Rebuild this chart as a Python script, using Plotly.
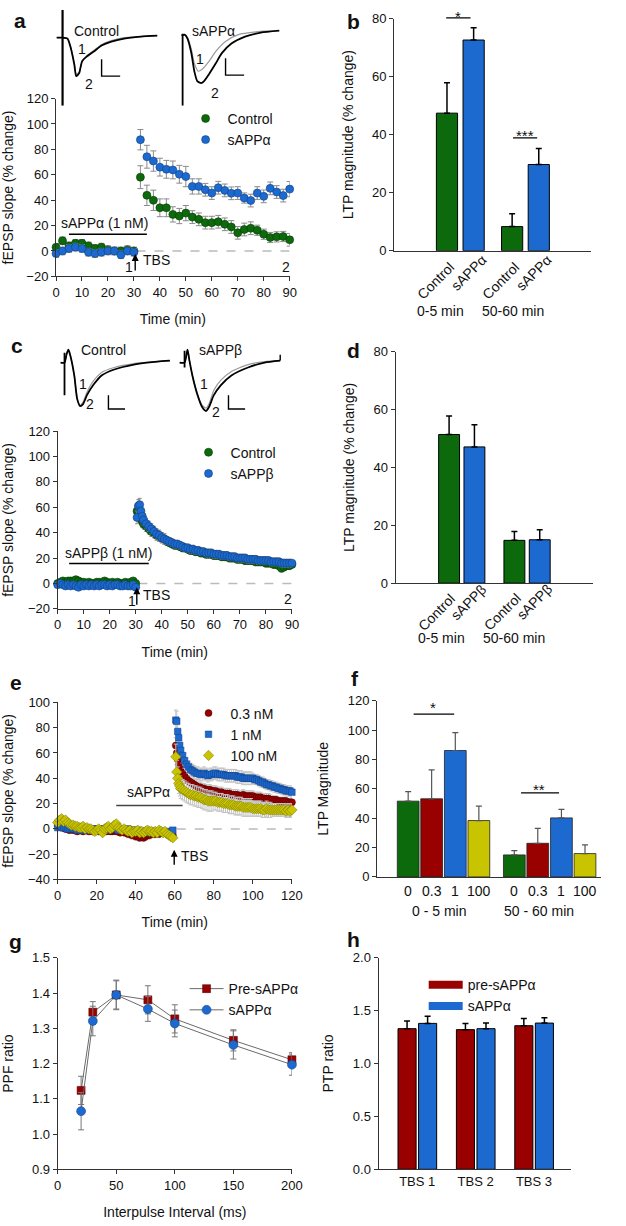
import plotly.graph_objects as go

W, H = 626, 1226
FONT = "Liberation Sans, Arial, sans-serif"
TXT = "#111111"
AX = "#333333"
GREEN = "#0c6a0c"
GREEN_D = "#063d06"
BLUE = "#1c6ad0"
BLUE_D = "#123f80"
RED = "#990000"
RED_D = "#4d0000"
YELLOW = "#c9c400"
YELLOW_D = "#77740a"
ERRG = "#8a8a8a"


def px(x):
    return x / W


def py(y):
    return 1 - y / H


# ---------------- panel a data ----------------
a_time = [0, 2.5, 5, 7.5, 10, 12.5, 15, 17.5, 20, 22.5, 25, 27.5, 30, 32.5, 35, 37.5, 40, 42.5,
          45, 47.5, 50, 52.5, 55, 57.5, 60, 62.5, 65, 67.5, 70, 72.5, 75, 77.5, 80, 82.5, 85, 87.5, 90]
a_ctrl = [2.9, 8, 4, 6, 6, 4, 2, 3, 1, 0, 0, 1, 0,
          58.1, 43.8, 39.9, 34, 34, 28.8, 27.5, 29.8, 26.7, 24.9,
          22.3, 22.3, 23, 21, 18.9, 14.3, 16.9, 17.9, 16.3, 13.2,
          10.6, 11.1, 11.4, 8.8]
a_ctrl_err = [3, 3, 3, 3, 3, 3, 3, 3, 3, 3, 3, 3, 3,
              9, 8, 8, 7, 7, 6, 6, 6, 5, 5,
              5, 5, 5, 5, 5, 5, 5, 5, 4, 4,
              4, 4, 4, 5]
a_salpha = [-2, 0, 2, 3, 2, -1, -2, -1, 0, 0, -3, 0, -1,
            87.6, 74.2, 70.8, 66, 64.3, 63.8, 60.4, 58.6, 50.8, 50.8,
            48.2, 45.6, 49.8, 47.7, 45.4, 45.6, 41.7, 39.7, 45.6, 43,
            49.3, 46.4, 43.6, 48.7]
a_salpha_err = [3, 3, 3, 3, 3, 3, 3, 3, 3, 3, 3, 3, 3,
                8, 9, 8, 7, 7, 7, 7, 8, 6, 6,
                5, 5, 5, 5, 5, 5, 4, 5, 5, 5,
                5, 5, 5, 6]

# ---------------- panel b data ----------------
b_groups = ["0-5 min", "50-60 min"]
b_ctrl = [47.4, 8.3]
b_ctrl_err = [10.5, 4.4]
b_salpha = [72.6, 29.7]
b_salpha_err = [4.2, 5.5]

# ---------------- panel c data ----------------
c_time = list(range(0, 31)) + [30.5, 31, 31.5, 32, 32.5, 33] + list(range(34, 91))
c_ctrl = [0, 1, 2, 1, 2, 2, 2, 3, 2, 1, 1, 0, 1, 0, 0, 1, 1, 0, 2, 1, 0, 1, 0, 1, 0, 0, 1, 0, 1, 2, 0,
          57, 55, 53, 51, 49, 47,
          45, 43, 41, 40, 38, 37,
          36, 35, 33, 32, 31, 30, 30, 29, 28, 28,
          27, 26, 26, 25, 25, 24, 24, 23, 23, 23,
          22, 22, 22, 21, 21, 21, 20, 20, 20, 19,
          19, 19, 18, 18, 18, 18, 17, 17, 17, 17,
          16, 16, 16, 15, 15, 14, 12, 13, 14, 14,
          15]
c_sbeta = [-1, 0, -1, -2, -1, -2, -1, -2, -3, -1, -2, -1, -2, -1, -2, -1, -2, -1, -1, -2,
           -1, -2, -1, -1, -2, -2, -1, -2, -2, -1, -3,
           52, 61, 62, 57, 53, 50,
           47, 45, 43, 41, 39, 38,
           36, 35, 34, 33, 32, 31, 31, 30, 29, 28,
           28, 27, 27, 26, 26, 25, 25, 24, 24, 24,
           23, 23, 23, 22, 22, 22, 21, 21, 21, 20,
           20, 20, 20, 19, 19, 19, 19, 18, 18, 18,
           18, 18, 17, 17, 17, 17, 16, 16, 16, 16,
           16]
c_err = [2, 2, 2, 2, 2, 2, 2, 2, 2, 2, 2, 2, 2, 2, 2, 2, 2, 2, 2, 2, 2, 2, 2, 2, 2, 2, 2, 2, 2, 2, 2,
         5, 5, 5, 5, 5, 4,
         4, 4, 4, 4, 4, 4,
         4, 4, 3, 3, 3, 3, 3, 3, 3, 3,
         3, 3, 3, 3, 3, 3, 3, 3, 3, 3,
         3, 3, 3, 3, 3, 3, 3, 3, 3, 3,
         3, 3, 3, 3, 3, 3, 3, 3, 3, 3,
         3, 3, 3, 3, 3, 3, 3, 3, 3, 3,
         3]

# ---------------- panel d data ----------------
d_groups = ["0-5 min", "50-60 min"]
d_ctrl = [51.4, 14.8]
d_ctrl_err = [6.4, 3.1]
d_sbeta = [47.1, 15.0]
d_sbeta_err = [7.7, 3.5]

# ---------------- panel e data ----------------
e_time = list(range(0, 60)) + [60.5, 61, 61.5, 62, 62.5, 63] + list(range(64, 121))
e_03 = [3, 2, 1, 1, 0, 0, -1, 0, -1, -1, -2, -1, -1, -2, -1, -1, -2, -1, -2, -1,
        -1, -2, -1, -1, -2, -2, -1, -2, -2, -1, -2, -2, -3, -2, -3, -3, -4, -4, -5, -5,
        -6, -6, -7, -6, -7, -6, -5, -5, -4, -4, -4, -3, -4, -3, -3, -3, -4, -3, -4, -5,
        66, 60, 55, 51, 48, 46,
        44, 42, 40, 38, 37, 36,
        35, 34, 33, 33, 32, 32, 31, 31, 31, 30,
        30, 30, 29, 29, 29, 28, 28, 28, 28, 27,
        27, 27, 27, 26, 26, 27, 26, 26, 26, 26,
        26, 25, 25, 25, 25, 24, 24, 24, 24, 23,
        23, 23, 23, 22, 22, 22, 22, 22, 21, 21, 21]
e_1 = [1, 3, 2, 1, 1, 0, 0, 1, 0, 0, -1, 0, 0, -1, 0, 0, -1, 0, 0, -1,
       0, 0, -1, 0, 0, -1, 0, 0, 1, 0, 0, -1, 0, 0, -1, -1, 0, -1, -1, -2,
       -2, -1, -2, -2, -2, -3, -2, -2, -3, -2, -2, -3, -2, -2, -3, -3, -3, -2, -3, -1,
       86, 85, 77, 72, 66, 62,
       58, 54, 51, 49, 47, 46,
       45, 44, 44, 43, 43, 44, 43, 42, 43, 43,
       44, 44, 43, 43, 43, 43, 42, 42, 42, 42,
       42, 42, 41, 41, 41, 40, 40, 40, 40, 40,
       40, 39, 39, 38, 37, 37, 36, 35, 35, 34,
       34, 33, 33, 32, 32, 31, 31, 30, 30, 30, 29]
e_100 = [5, 7, 8, 6, 7, 5, 4, 3, 3, 2, 2, 1, 1, 2, 0, 1, 0, 0, -1, -2,
         -1, 0, -1, -3, 0, 1, 2, 0, 1, 3, 4, 1, 0, -1, 0, -1, -2, -1, -3, -2,
         -2, -1, -3, -2, -3, -2, -1, -2, -2, -3, -2, -3, -1, -2, -3, -2, -4, -5, -6, -7,
         57, 45, 40, 36, 34, 32,
         31, 30, 29, 28, 27, 27,
         26, 26, 25, 25, 24, 23, 23, 22, 22, 22,
         22, 22, 21, 21, 21, 20, 20, 20, 19, 19,
         19, 18, 18, 18, 18, 17, 17, 17, 17, 17,
         16, 16, 16, 16, 16, 15, 15, 16, 15, 15,
         15, 15, 15, 15, 15, 15, 15, 14, 15, 14, 15]
e_03_err = [2, 2, 2, 2, 2, 2, 2, 2, 2, 2, 2, 2, 2, 2, 2, 2, 2, 2, 2, 2,
            2, 2, 2, 2, 2, 2, 2, 2, 2, 2, 2, 2, 2, 2, 2, 2, 3, 3, 3, 3,
            3, 3, 3, 3, 3, 3, 3, 3, 3, 3, 3, 3, 3, 3, 3, 3, 3, 3, 3, 3,
            6, 6, 5, 5, 5, 5,
            4, 4, 4, 4, 4, 4,
            4, 4, 4, 4, 4, 4, 4, 4, 4, 4,
            4, 4, 4, 4, 4, 4, 4, 4, 4, 4,
            4, 4, 4, 4, 4, 4, 4, 4, 4, 4,
            4, 4, 4, 4, 4, 4, 4, 4, 4, 4,
            3, 3, 3, 3, 3, 3, 3, 3, 3, 3, 3]
e_1_err = [2, 2, 2, 2, 2, 2, 2, 2, 2, 2, 2, 2, 2, 2, 2, 2, 2, 2, 2, 2,
           2, 2, 2, 2, 2, 2, 2, 2, 2, 2, 2, 2, 2, 2, 2, 2, 2, 2, 2, 2,
           2, 2, 2, 2, 2, 2, 2, 2, 2, 2, 2, 2, 2, 2, 2, 2, 2, 2, 2, 2,
           8, 8, 7, 7, 6, 6,
           6, 6, 5, 5, 5, 5,
           5, 5, 5, 5, 5, 5, 5, 5, 5, 5,
           5, 5, 5, 5, 5, 5, 5, 5, 5, 5,
           5, 5, 5, 5, 5, 5, 5, 5, 5, 5,
           4, 4, 4, 4, 4, 4, 4, 4, 4, 4,
           4, 4, 4, 4, 4, 4, 4, 4, 4, 4, 4]
e_100_err = [2, 2, 2, 2, 2, 2, 2, 2, 2, 2, 2, 2, 2, 2, 2, 2, 2, 2, 2, 2,
             2, 2, 2, 2, 2, 2, 2, 2, 2, 2, 2, 2, 2, 2, 2, 2, 2, 2, 2, 2,
             2, 2, 2, 2, 2, 2, 2, 2, 2, 2, 2, 2, 2, 2, 2, 2, 2, 2, 2, 2,
             10, 9, 9, 8, 8, 8,
             8, 8, 8, 8, 8, 8,
             8, 8, 8, 8, 8, 8, 8, 8, 8, 8,
             7, 7, 7, 7, 7, 7, 7, 7, 7, 7,
             7, 7, 7, 7, 7, 7, 7, 7, 7, 7,
             6, 6, 6, 6, 6, 6, 6, 6, 6, 6,
             5, 5, 5, 5, 5, 5, 5, 5, 5, 5, 5]

# ---------------- panel f data ----------------
f_groups = ["0 - 5 min", "50 - 60 min"]
f_conc = ["0", "0.3", "1", "100"]
f_vals = [[51.6, 15.0], [53.2, 22.9], [86.1, 40.2], [38.4, 15.9]]
f_errs = [[6.5, 2.9], [19.7, 10.1], [12.1, 5.8], [9.8, 5.9]]

# ---------------- panel g data ----------------
g_interval = [20, 30, 50, 77, 100, 150, 200]
g_pre = [1.124, 1.346, 1.395, 1.381, 1.327, 1.266, 1.211]
g_pre_err = [0.04, 0.03, 0.04, 0.04, 0.04, 0.03, 0.02]
g_salpha = [1.065, 1.321, 1.395, 1.355, 1.314, 1.253, 1.197]
g_salpha_err = [0.053, 0.042, 0.042, 0.035, 0.038, 0.04, 0.03]
g_yticks = [0.9, 1.0, 1.1, 1.2, 1.3, 1.4, 1.5]

# ---------------- panel h data ----------------
h_groups = ["TBS 1", "TBS 2", "TBS 3"]
h_pre = [1.328, 1.319, 1.356]
h_pre_err = [0.072, 0.059, 0.069]
h_salpha = [1.378, 1.328, 1.381]
h_salpha_err = [0.068, 0.053, 0.05]

# ---------------- example traces (insets) ----------------
ia_ctrl_t = [1, 6, 12, 15, 19, 21, 24, 27, 32, 39, 47, 57, 70, 87, 104]
ia_ctrl_v1 = [-1, -1, -2, -9, -27, -38, -36, -25, -19, -14, -8, -4, -1, 0, 1]
ia_ctrl_v2 = [-1, -1, -2, -10, -28, -40, -37, -25, -20, -15, -9, -5, -2, 0, 1]
ia_ctrl_art_t = [7, 7]
ia_ctrl_art_v = [27, -70]
ia_alpha_t1 = [2, 5, 8, 12, 15, 19, 23, 30, 37, 47, 60, 80, 102]
ia_alpha_v1 = [0, 1, -2, -14, -28, -36, -34, -26, -16, -6, 1, 4, 5]
ia_alpha_t2 = [2, 5, 8, 12, 15, 18, 22, 25, 30, 37, 43, 53, 67, 83, 102]
ia_alpha_v2 = [0, 1, -3, -18, -36, -46, -48, -46, -39, -28, -18, -8, -1, 3, 5]
ia_alpha_art_t = [3, 3]
ia_alpha_art_v = [2, -71]
ic_ctrl_t = [3, 7, 9, 11, 13, 17, 20, 23, 26, 30, 37, 45, 58, 78, 102, 115]
ic_ctrl_v1 = [0, 0, 8, 13, 7, -13, -36, -43, -40, -30, -18, -10, -5, -1, 1, 2]
ic_ctrl_v2 = [0, 0, 8, 13, 7, -13, -37, -44, -42, -33, -22, -13, -7, -2, 1, 2]
ic_ctrl_art_t = [7, 7]
ic_ctrl_art_v = [10, -33]
ic_beta_t = [2, 7, 10, 12, 15, 20, 25, 29, 32, 37, 44, 55, 72, 89, 105]
ic_beta_v1 = [0, 0, 13, 2, -13, -31, -43, -46, -42, -28, -18, -9, -2, 1, 2]
ic_beta_v2 = [0, 0, 13, 2, -13, -32, -45, -49, -45, -33, -23, -13, -5, 0, 2]
ic_beta_art_t = [7, 7]
ic_beta_art_v = [12, -5]
ic_beta_end_t = [105, 105]
ic_beta_end_v = [8, 2]
scale_a_t = [47, 47, 66]
scale_a_v = [-23, -40, -40]
scale_c_t = [52, 52, 69]
scale_c_v = [-33, -47, -47]

for arrs in [(a_time, a_ctrl, a_ctrl_err, a_salpha, a_salpha_err),
             (c_time, c_ctrl, c_sbeta, c_err),
             (e_time, e_03, e_1, e_100, e_03_err, e_1_err, e_100_err)]:
    n = len(arrs[0])
    for arr in arrs:
        assert len(arr) == n, (n, len(arr))

fig = go.Figure()


def err(arr, color=ERRG, width=3, thick=1):
    return dict(type="data", array=arr, color=color, thickness=thick, width=width, visible=True)


def up_err(arr):
    return dict(type="data", array=arr, arrayminus=[0] * len(arr), symmetric=False,
                color="black", thickness=1.5, width=3, visible=True)


# ---- panel a
fig.add_trace(go.Scatter(x=a_time, y=a_ctrl, mode="markers", name="Control", legend="legend",
                         marker=dict(size=8, color=GREEN, line=dict(color=GREEN_D, width=0.6)),
                         error_y=err(a_ctrl_err), cliponaxis=False, xaxis="x", yaxis="y"))
fig.add_trace(go.Scatter(x=a_time, y=a_salpha, mode="markers", name="sAPPα", legend="legend",
                         marker=dict(size=8, color=BLUE, line=dict(color=BLUE_D, width=0.6)),
                         error_y=err(a_salpha_err), cliponaxis=False, xaxis="x", yaxis="y"))

# ---- panel b
fig.add_trace(go.Bar(x=b_groups, y=b_ctrl, offset=-0.367, width=0.325, showlegend=False, name="Control",
                     marker=dict(color=GREEN, line=dict(color="black", width=1)),
                     error_y=up_err(b_ctrl_err), xaxis="x2", yaxis="y2"))
fig.add_trace(go.Bar(x=b_groups, y=b_salpha, offset=0.042, width=0.325, showlegend=False, name="sAPPα",
                     marker=dict(color=BLUE, line=dict(color="black", width=1)),
                     error_y=up_err(b_salpha_err), xaxis="x2", yaxis="y2"))

# ---- panel c
fig.add_trace(go.Scatter(x=c_time, y=c_ctrl, mode="markers", name="Control", legend="legend2",
                         marker=dict(size=8, color=GREEN, line=dict(color=GREEN_D, width=0.6)),
                         error_y=err(c_err, width=2), cliponaxis=False, xaxis="x3", yaxis="y3"))
fig.add_trace(go.Scatter(x=c_time, y=c_sbeta, mode="markers", name="sAPPβ", legend="legend2",
                         marker=dict(size=8, color=BLUE, line=dict(color=BLUE_D, width=0.6)),
                         error_y=err(c_err, width=2), cliponaxis=False, xaxis="x3", yaxis="y3"))

# ---- panel d
fig.add_trace(go.Bar(x=d_groups, y=d_ctrl, offset=-0.357, width=0.32, showlegend=False, name="Control",
                     marker=dict(color=GREEN, line=dict(color="black", width=1)),
                     error_y=up_err(d_ctrl_err), xaxis="x4", yaxis="y4"))
fig.add_trace(go.Bar(x=d_groups, y=d_sbeta, offset=0.031, width=0.32, showlegend=False, name="sAPPβ",
                     marker=dict(color=BLUE, line=dict(color="black", width=1)),
                     error_y=up_err(d_sbeta_err), xaxis="x4", yaxis="y4"))

# ---- panel e
EERR = "#c4c4c4"
fig.add_trace(go.Scatter(x=e_time, y=e_03, mode="markers", name="0.3 nM", legend="legend3",
                         marker=dict(size=7, symbol="circle", color=RED, line=dict(color=RED_D, width=0.5)),
                         error_y=err(e_03_err, color=EERR, width=2), cliponaxis=False,
                         xaxis="x5", yaxis="y5"))
fig.add_trace(go.Scatter(x=e_time, y=e_1, mode="markers", name="1 nM", legend="legend3",
                         marker=dict(size=6.5, symbol="square", color=BLUE, line=dict(color=BLUE_D, width=0.5)),
                         error_y=err(e_1_err, color=EERR, width=2), cliponaxis=False,
                         xaxis="x5", yaxis="y5"))
fig.add_trace(go.Scatter(x=e_time, y=e_100, mode="markers", name="100 nM", legend="legend3",
                         marker=dict(size=8, symbol="diamond", color=YELLOW, line=dict(color=YELLOW_D, width=0.5)),
                         error_y=err(e_100_err, color=EERR, width=2), cliponaxis=False,
                         xaxis="x5", yaxis="y5"))

# ---- panel f
f_colors = [GREEN, RED, BLUE, YELLOW]
f_offsets = [-0.437, -0.216, 0.007, 0.229]
f_width = 0.205
for i in range(4):
    fig.add_trace(go.Bar(x=f_groups, y=f_vals[i], offset=f_offsets[i], width=f_width, showlegend=False,
                         name=f_conc[i] + " nM",
                         marker=dict(color=f_colors[i], line=dict(color="#222222", width=0.8)),
                         error_y=dict(type="data", array=f_errs[i], arrayminus=[0, 0], symmetric=False,
                                      color="#555555", thickness=1.2, width=3),
                         xaxis="x6", yaxis="y6"))

# ---- panel g
fig.add_trace(go.Scatter(x=g_interval, y=g_pre, mode="lines+markers", name="Pre-sAPPα", legend="legend4",
                         line=dict(color="#6a6a6a", width=1),
                         marker=dict(size=8, symbol="square", color=RED, line=dict(color=RED_D, width=0.5)),
                         error_y=err(g_pre_err, color="#777777", width=3), cliponaxis=False,
                         xaxis="x7", yaxis="y7"))
fig.add_trace(go.Scatter(x=g_interval, y=g_salpha, mode="lines+markers", name="sAPPα", legend="legend4",
                         line=dict(color="#6a6a6a", width=1),
                         marker=dict(size=9, symbol="circle", color=BLUE, line=dict(color=BLUE_D, width=0.5)),
                         error_y=err(g_salpha_err, color="#777777", width=3), cliponaxis=False,
                         xaxis="x7", yaxis="y7"))

# ---- panel h
fig.add_trace(go.Bar(x=h_groups, y=h_pre, offset=-0.329, width=0.31, showlegend=False, name="pre-sAPPα",
                     marker=dict(color=RED, line=dict(color="black", width=1)),
                     error_y=up_err(h_pre_err), xaxis="x8", yaxis="y8"))
fig.add_trace(go.Bar(x=h_groups, y=h_salpha, offset=0.023, width=0.31, showlegend=False, name="sAPPα",
                     marker=dict(color=BLUE, line=dict(color="black", width=1)),
                     error_y=up_err(h_salpha_err), xaxis="x8", yaxis="y8"))
fig.add_trace(go.Scatter(x=[None], y=[None], mode="lines", name="pre-sAPPα", legend="legend5",
                         line=dict(color=RED, width=8), xaxis="x8", yaxis="y8"))
fig.add_trace(go.Scatter(x=[None], y=[None], mode="lines", name="sAPPα", legend="legend5",
                         line=dict(color=BLUE, width=8), xaxis="x8", yaxis="y8"))


# ---- insets (example fEPSP traces)
def inset_line(t, v, ax, color="black", width=1.8):
    fig.add_trace(go.Scatter(x=t, y=v, mode="lines", showlegend=False, hoverinfo="skip",
                             line=dict(color=color, width=width, shape="spline", smoothing=0.6),
                             xaxis="x" + ax, yaxis="y" + ax, cliponaxis=False))


def inset_straight(t, v, ax, width=1.6):
    fig.add_trace(go.Scatter(x=t, y=v, mode="lines", showlegend=False, hoverinfo="skip",
                             line=dict(color="black", width=width),
                             xaxis="x" + ax, yaxis="y" + ax, cliponaxis=False))


inset_line(ia_ctrl_t, ia_ctrl_v1, "9", color="#9a9a9a", width=1.2)
inset_line(ia_ctrl_t, ia_ctrl_v2, "9")
inset_straight(ia_ctrl_art_t, ia_ctrl_art_v, "9", width=2.2)
inset_straight(scale_a_t, scale_a_v, "9", width=1.4)
inset_line(ia_alpha_t1, ia_alpha_v1, "10", color="#9a9a9a", width=1.2)
inset_line(ia_alpha_t2, ia_alpha_v2, "10")
inset_straight(ia_alpha_art_t, ia_alpha_art_v, "10", width=1.8)
inset_straight(scale_a_t, scale_a_v, "10", width=1.4)
inset_line(ic_ctrl_t, ic_ctrl_v1, "11", color="#9a9a9a", width=1.2)
inset_line(ic_ctrl_t, ic_ctrl_v2, "11")
inset_straight(ic_ctrl_art_t, ic_ctrl_art_v, "11", width=1.8)
inset_straight(scale_c_t, scale_c_v, "11", width=1.4)
inset_line(ic_beta_t, ic_beta_v1, "12", color="#9a9a9a", width=1.2)
inset_line(ic_beta_t, ic_beta_v2, "12")
inset_straight(ic_beta_art_t, ic_beta_art_v, "12", width=1.8)
inset_straight(ic_beta_end_t, ic_beta_end_v, "12", width=1.4)
inset_straight(scale_c_t, scale_c_v, "12", width=1.4)


# ---------------- layout ----------------
def xax(domain, rng, **kw):
    d = dict(domain=domain, range=rng, showline=True, linecolor=AX, linewidth=1, ticks="outside",
             ticklen=4, tickwidth=1, tickcolor=AX, showgrid=False, zeroline=False,
             tickfont=dict(size=13, color=TXT), title_font=dict(size=14, color=TXT), fixedrange=True)
    d.update(kw)
    return d


def inset_ax(domain, rng, anchor):
    return dict(domain=domain, range=rng, visible=False, showgrid=False, zeroline=False,
                anchor=anchor, fixedrange=True)


layout = dict(
    width=W, height=H, margin=dict(l=0, r=0, t=0, b=0),
    paper_bgcolor="white", plot_bgcolor="rgba(0,0,0,0)",
    font=dict(family=FONT, size=13, color=TXT),
    barmode="overlay", showlegend=True,
    xaxis=xax([px(53.3), px(292.7)], [0, 90], dtick=10, anchor="y", title=dict(text="Time (min)")),
    yaxis=xax([py(272.7), py(92.7)], [-20, 120], dtick=20, anchor="x",
              title=dict(text="fEPSP slope (% change)")),
    xaxis2=xax([px(399.7), px(601)], [-1.016, 2.0], type="category", ticks="", showticklabels=False,
               anchor="y2"),
    yaxis2=xax([py(246.7), py(11.7)], [0, 80], dtick=20, anchor="x2",
               title=dict(text="LTP magnitude (% change)")),
    xaxis3=xax([px(55), px(295)], [0, 90], dtick=10, anchor="y3", title=dict(text="Time (min)")),
    yaxis3=xax([py(609.3), py(429.3)], [-20, 120], dtick=20, anchor="x3",
               title=dict(text="fEPSP slope (% change)")),
    xaxis4=xax([px(401.3), px(603)], [-1.015, 2.0], type="category", ticks="", showticklabels=False,
               anchor="y4"),
    yaxis4=xax([py(583.3), py(349)], [0, 80], dtick=20, anchor="x4",
               title=dict(text="LTP magnitude (% change)")),
    xaxis5=xax([px(55), px(295)], [0, 120], dtick=20, anchor="y5", title=dict(text="Time (min)")),
    yaxis5=xax([py(883.3), py(704)], [-40, 100], dtick=20, anchor="x5",
               title=dict(text="fEPSP slope (% change)")),
    xaxis6=xax([px(382.3), px(611.3)], [-0.627, 1.479], type="category", ticks="", showticklabels=False,
               anchor="y6"),
    yaxis6=xax([py(880.7), py(702.3)], [0, 120], dtick=20, anchor="x6",
               title=dict(text="LTP Magnitude")),
    xaxis7=xax([px(55), px(295)], [0, 200], dtick=50, anchor="y7",
               title=dict(text="Interpulse Interval (ms)")),
    yaxis7=xax([py(1176.7), py(962.7)], [0.9, 1.5], tickvals=g_yticks, tickformat=".1f", anchor="x7",
               title=dict(text="PPF ratio")),
    xaxis8=xax([px(383.7), px(581.3)], [-0.663, 2.64], type="category", ticks="", anchor="y8"),
    yaxis8=xax([py(1176.7), py(962.3)], [0, 2], dtick=0.5, tickformat=".1f", anchor="x8",
               title=dict(text="PTP ratio")),
    xaxis9=inset_ax([px(53), px(160)], [0, 107], "y9"),
    yaxis9=inset_ax([py(100), py(0)], [-70, 30], "x9"),
    xaxis10=inset_ax([px(180), px(285)], [0, 105], "y10"),
    yaxis10=inset_ax([py(100), py(0)], [-71, 29], "x10"),
    xaxis11=inset_ax([px(55), px(175)], [0, 120], "y11"),
    yaxis11=inset_ax([py(415), py(340)], [-55, 20], "x11"),
    xaxis12=inset_ax([px(178), px(290)], [0, 112], "y12"),
    yaxis12=inset_ax([py(415), py(340)], [-55, 20], "x12"),
)

leg_common = dict(bgcolor="rgba(0,0,0,0)", font=dict(size=14, color=TXT), xanchor="left",
                  yanchor="top", tracegroupgap=0, itemwidth=34)
layout["legend"] = dict(x=px(184), y=py(97), **leg_common)
layout["legend2"] = dict(x=px(187), y=py(435), **leg_common)
layout["legend3"] = dict(x=px(187), y=py(699), **leg_common)
layout["legend4"] = dict(x=px(185), y=py(978), **leg_common)
layout["legend5"] = dict(x=px(430), y=py(974), **leg_common)

fig.update_layout(**layout)

ann = []


def txt(x, y, s, xref, yref, size=14, **kw):
    d = dict(x=x, y=y, text=s, xref=xref, yref=yref, showarrow=False,
             xanchor="center", yanchor="middle",
             font=dict(size=size, color=TXT, family=FONT))
    d.update(kw)
    ann.append(d)


# panel letters
for letter, lx, ly in [("a", 16, 14), ("b", 358, 15), ("c", 13, 343), ("d", 358, 348),
                       ("e", 12, 684), ("f", 360, 680), ("g", 12, 946), ("h", 358, 944)]:
    txt(px(lx), py(ly), "<b>%s</b>" % letter, "paper", "paper", size=21)

# inset labels
txt(42, 6, "Control", "x9", "y9")
txt(27, -13, "1", "x9", "y9")
txt(34, -48, "2", "x9", "y9")
txt(35, 5, "sAPPα", "x10", "y10")
txt(21, -24, "1", "x10", "y10")
txt(36, -58, "2", "x10", "y10")
txt(47, 13, "Control", "x11", "y11")
txt(26, -22, "1", "x11", "y11")
txt(33, -42, "2", "x11", "y11")
txt(44, 13, "sAPPβ", "x12", "y12")
txt(27, -22, "1", "x12", "y12")
txt(39, -50, "2", "x12", "y12")

# panel a annotations
txt(18.8, 22.3, "sAPPα (1 nM)", "x", "y")
txt(38.8, -7.5, "TBS", "x", "y")
txt(28.2, -12.7, "1", "x", "y")
txt(88.7, -12.7, "2", "x", "y")
ann.append(dict(x=30.5, y=-2.3, ax=30.5, ay=-16.6, xref="x", yref="y", axref="x", ayref="y",
                showarrow=True, arrowhead=2, arrowsize=1, arrowwidth=1.4, arrowcolor="black", text=""))

# panel c annotations
txt(19.4, 23.6, "sAPPβ (1 nM)", "x3", "y3")
txt(38.1, -8.8, "TBS", "x3", "y3")
txt(28.5, -14, "1", "x3", "y3")
txt(88.4, -12.2, "2", "x3", "y3")
ann.append(dict(x=30.4, y=-3, ax=30.4, ay=-18, xref="x3", yref="y3", axref="x3", ayref="y3",
                showarrow=True, arrowhead=2, arrowsize=1, arrowwidth=1.4, arrowcolor="black", text=""))

# panel e annotations
txt(46.7, 29, "sAPPα", "x5", "y5")
txt(70, -21.8, "TBS", "x5", "y5")
ann.append(dict(x=59.7, y=-16.5, ax=59.7, ay=-29.6, xref="x5", yref="y5", axref="x5", ayref="y5",
                showarrow=True, arrowhead=2, arrowsize=1, arrowwidth=1.4, arrowcolor="black", text=""))

# panel b / d category labels
for gi in range(2):
    txt(gi, 0, "Control", "x2", "y2", textangle=-45, xshift=-25, yshift=-30)
    txt(gi, 0, "sAPPα", "x2", "y2", textangle=-45, xshift=8, yshift=-22)
    txt(gi, 0, "Control", "x4", "y4", textangle=-45, xshift=-25, yshift=-29)
    txt(gi, 0, "sAPPβ", "x4", "y4", textangle=-45, xshift=7, yshift=-19)
txt(0, 0, b_groups[0], "x2", "y2", xshift=-19.5, yshift=-60)
txt(1, 0, b_groups[1], "x2", "y2", xshift=-12, yshift=-60)
txt(0, 0, d_groups[0], "x4", "y4", xshift=-20, yshift=-55)
txt(1, 0, d_groups[1], "x4", "y4", xshift=-13, yshift=-55)
# significance b
txt(-0.04, py(11), "*", "x2", "paper", size=15, yshift=1)
txt(0.995, 38.9, "***", "x2", "y2", size=15, yshift=2)

# panel f labels
for gi in range(2):
    for i in range(4):
        txt(gi + f_offsets[i] + f_width / 2, 0, f_conc[i], "x6", "y6", yshift=-14)
txt(-0.04, 0, f_groups[0], "x6", "y6", yshift=-34)
txt(0.9, 0, f_groups[1], "x6", "y6", yshift=-34)
txt(-0.10, 110.8, "*", "x6", "y6", size=15, yshift=7)
txt(0.9, 57.2, "**", "x6", "y6", size=15, yshift=3)

fig.update_layout(annotations=ann)

shapes = [
    # drug application bars
    dict(type="line", xref="x", yref="y", x0=5, x1=35, y0=13.2, y1=13.2, line=dict(color="black", width=1.5)),
    dict(type="line", xref="x3", yref="y3", x0=4.4, x1=35, y0=15.8, y1=15.8, line=dict(color="black", width=1.5)),
    dict(type="line", xref="x5", yref="y5", x0=30, x1=64, y0=18.5, y1=18.5, line=dict(color="#444444", width=1.5)),
    # baseline dashed lines
    dict(type="line", xref="x", yref="y", x0=31, x1=90, y0=0, y1=0, line=dict(color="#bbbbbb", width=1.5, dash="dash"), layer="below"),
    dict(type="line", xref="x3", yref="y3", x0=31, x1=90, y0=0, y1=0, line=dict(color="#bbbbbb", width=1.5, dash="dash"), layer="below"),
    dict(type="line", xref="x5", yref="y5", x0=61, x1=120, y0=0, y1=0, line=dict(color="#bbbbbb", width=1.5, dash="dash"), layer="below"),
    # significance lines
    dict(type="line", xref="x2", yref="paper", x0=-0.217, x1=0.157, y0=py(11), y1=py(11), line=dict(color="black", width=1.2)),
    dict(type="line", xref="x2", yref="y2", x0=0.81, x1=1.18, y0=38.9, y1=38.9, line=dict(color="black", width=1.2)),
    dict(type="line", xref="x6", yref="y6", x0=-0.283, x1=0.099, y0=110.8, y1=110.8, line=dict(color="black", width=1.2)),
    dict(type="line", xref="x6", yref="y6", x0=0.729, x1=1.087, y0=57.2, y1=57.2, line=dict(color="black", width=1.2)),
]
fig.update_layout(shapes=shapes)

fig.write_html("out.html", config={"displayModeBar": False},
               post_script="document.body.style.margin='0px';document.body.style.overflow='hidden';")
